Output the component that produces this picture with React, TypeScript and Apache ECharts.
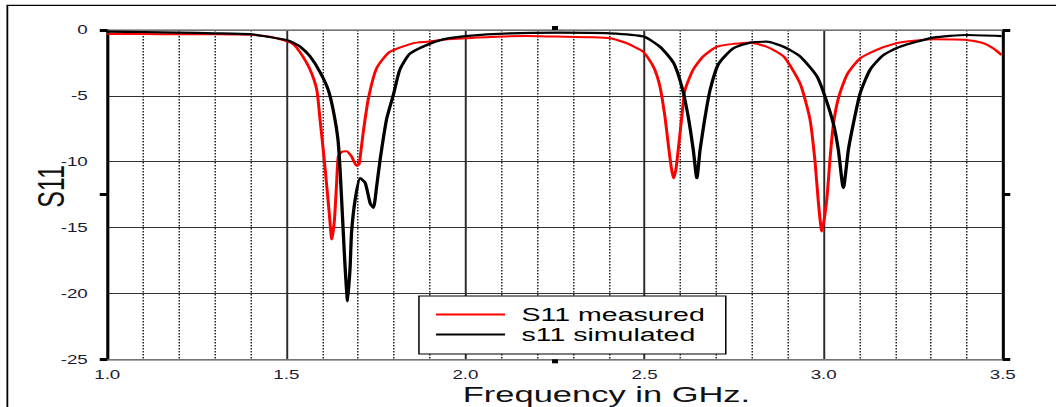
import React, { useEffect, useRef } from "react";
import * as echarts from "echarts";

// ---- data ----
const measuredFreq = [
  1.0, 1.1, 1.2, 1.3, 1.4, 1.45, 1.5, 1.52, 1.54, 1.566, 1.585, 1.594, 1.603, 1.613, 1.62, 1.627,
  1.634, 1.64, 1.645, 1.655, 1.668, 1.682, 1.696, 1.703, 1.709, 1.715, 1.729, 1.752, 1.789, 1.855,
  1.892, 1.95, 2.0, 2.1, 2.171, 2.25, 2.357, 2.404, 2.45, 2.496, 2.525, 2.543, 2.557, 2.567, 2.575,
  2.581, 2.588, 2.595, 2.604, 2.613, 2.636, 2.664, 2.702, 2.75, 2.795, 2.841, 2.888, 2.934, 2.962,
  2.976, 2.985, 2.995, 3.009, 3.018, 3.027, 3.041, 3.065, 3.102, 3.158, 3.213, 3.306, 3.4, 3.445,
  3.473, 3.497,
];
const measuredS11 = [
  -0.3, -0.3, -0.33, -0.32, -0.37, -0.5, -0.85, -1.1, -1.76, -3.0, -4.55, -6.8, -9.1, -11.9, -14.0, -15.9,
  -14.5, -11.8, -9.6, -9.25, -9.2, -9.6, -10.3, -10.2, -9.0, -7.7, -5.2, -2.9, -1.65, -1.0,
  -0.89, -0.7, -0.63, -0.5, -0.46, -0.5, -0.55, -0.63, -1.0, -1.65, -2.8, -4.3, -6.6, -8.85, -10.5,
  -11.25, -10.5, -8.85, -6.6, -4.55, -3.0, -2.0, -1.27, -1.05, -0.96, -1.27, -2.0, -4.05, -6.8,
  -10.0, -13.0, -15.3, -12.8, -9.7, -7.2, -5.2, -3.4, -2.15, -1.39, -0.95, -0.71, -0.76, -1.0,
  -1.39, -1.9,
];
const simulatedFreq = [
  1.0, 1.1, 1.2, 1.3, 1.4, 1.445, 1.5, 1.52, 1.539, 1.566, 1.594, 1.617, 1.631, 1.644, 1.65, 1.659,
  1.664, 1.671, 1.678, 1.682, 1.692, 1.706, 1.72, 1.734, 1.743, 1.752, 1.762, 1.78, 1.799, 1.817,
  1.845, 1.892, 1.938, 2.0, 2.125, 2.264, 2.404, 2.497, 2.543, 2.581, 2.604, 2.622, 2.636, 2.646,
  2.655, 2.669, 2.683, 2.706, 2.748, 2.795, 2.841, 2.888, 2.934, 2.981, 3.004, 3.027, 3.041, 3.055,
  3.069, 3.083, 3.102, 3.13, 3.167, 3.213, 3.306, 3.4, 3.497,
];
const simulatedS11 = [
  -0.12, -0.15, -0.2, -0.25, -0.32, -0.5, -0.76, -0.97, -1.27, -2.0, -3.2, -4.55, -6.1, -8.3, -10.6, -15.4,
  -18.0, -20.6, -18.0, -15.4, -12.9, -11.25, -11.6, -13.15, -13.5, -11.9, -9.8, -6.75, -4.9, -3.0,
  -1.8, -1.14, -0.71, -0.46, -0.25, -0.2, -0.25, -0.5, -1.27, -2.5, -4.3, -6.6, -9.1, -11.25,
  -9.1, -6.6, -4.55, -2.6, -1.39, -0.96, -0.89, -1.27, -2.0, -3.5, -5.06, -7.1, -9.1, -12.0,
  -9.1, -7.1, -4.8, -3.0, -1.9, -1.27, -0.58, -0.38, -0.46,
];
const seriesNames = ["S11 measured", "s11 simulated"];
const xTitle = "Frequency in GHz.";
const yTitle = "S11";
const xRange = [1.0, 3.5];
const yRange = [-25, 0];
const xTickStep = 0.5;
const yTickStep = 5;
const xMarkTicks = [2.25];
const yMarkTicks = [0, -12.5, -25];

// ---- layout ----
const SCALE_X = 1.5;
const PAGE_W = 1056;
const PAGE_H = 407;
const CHART_W = PAGE_W / SCALE_X;
const FONT = '"Liberation Sans", Arial, sans-serif';

export default function App() {
  const ref = useRef<HTMLDivElement>(null);

  useEffect(() => {
    const el = ref.current;
    if (!el) return;
    const chart = echarts.init(el, null, { renderer: "svg", width: CHART_W, height: PAGE_H });
    const toPairs = (xs: number[], ys: number[]) => xs.map((x, i) => [x, ys[i]]);
    const labelStyle = { color: "#1a1a33", fontSize: 12.5, fontFamily: FONT };

    // an axis that only draws the few black tick marks
    const markX = (position: string) => ({
      type: "value",
      min: xRange[0],
      max: xRange[1],
      interval: xTickStep,
      position,
      offset: 0,
      axisLine: { show: false, onZero: false },
      axisTick: { show: true, customValues: xMarkTicks, length: 4, lineStyle: { color: "#000", width: 4 } },
      axisLabel: { show: false },
      splitLine: { show: false },
    });
    const markY = (position: string) => ({
      type: "value",
      min: yRange[0],
      max: yRange[1],
      interval: yTickStep,
      position,
      offset: 0,
      axisLine: { show: false, onZero: false },
      axisTick: { show: true, customValues: yMarkTicks, length: 5, lineStyle: { color: "#000", width: 3 } },
      axisLabel: { show: false },
      splitLine: { show: false },
    });

    chart.setOption({
      animation: false,
      backgroundColor: "#fff",
      grid: { left: 71.5, right: 35.5, top: 30, bottom: 47.7, containLabel: false },
      legend: {
        data: seriesNames,
        orient: "vertical",
        left: 279.3,
        top: 296,
        icon: "rect",
        itemWidth: 46,
        itemHeight: 2,
        itemGap: 1,
        padding: [9, 14, 10, 11.4],
        backgroundColor: "#fff",
        borderColor: "#000",
        borderWidth: 1,
        borderRadius: 0,
        textStyle: { fontSize: 19, fontFamily: FONT, color: "#000", padding: [0, 0, 0, 6] },
      },
      xAxis: [
        {
          type: "value",
          min: xRange[0],
          max: xRange[1],
          interval: xTickStep,
          position: "bottom",
          axisLine: { show: true, onZero: false, lineStyle: { color: "#8a8a8a", width: 1.6 } },
          axisTick: { show: false },
          axisLabel: { ...labelStyle, margin: 9, formatter: (v: number) => v.toFixed(1) },
          splitLine: { show: true, lineStyle: { color: "#2a2a2a", width: 1.3 } },
          minorTick: { show: false, splitNumber: 5 },
          minorSplitLine: { show: true, lineStyle: { color: "#222", width: 1, type: [1.5, 1.5] } },
        },
        {
          type: "value",
          min: xRange[0],
          max: xRange[1],
          interval: xTickStep,
          position: "top",
          axisLine: { show: true, onZero: false, lineStyle: { color: "#8a8a8a", width: 1.6 } },
          axisTick: { show: true, customValues: xMarkTicks, length: 4, lineStyle: { color: "#000", width: 4 } },
          axisLabel: { show: false },
          splitLine: { show: false },
        },
        markX("bottom"),
      ],
      yAxis: [
        {
          type: "value",
          min: yRange[0],
          max: yRange[1],
          interval: yTickStep,
          position: "left",
          axisLine: { show: true, onZero: false, lineStyle: { color: "#000", width: 1.8 } },
          axisTick: { show: false },
          axisLabel: { ...labelStyle, margin: 13, formatter: (v: number) => String(v) },
          splitLine: { show: true, lineStyle: { color: "#333", width: 1.2 } },
        },
        {
          type: "value",
          min: yRange[0],
          max: yRange[1],
          interval: yTickStep,
          position: "right",
          axisLine: { show: true, onZero: false, lineStyle: { color: "#000", width: 1.8 } },
          axisTick: { show: true, customValues: yMarkTicks, length: 5, lineStyle: { color: "#000", width: 3 } },
          axisLabel: { show: false },
          splitLine: { show: false },
        },
        markY("left"),
      ],
      series: [
        {
          name: seriesNames[0],
          type: "line",
          xAxisIndex: 0,
          yAxisIndex: 0,
          data: toPairs(measuredFreq, measuredS11),
          showSymbol: false,
          smooth: 0.2,
          lineStyle: { color: "#ff0000", width: 2 },
          itemStyle: { color: "#ff0000" },
          z: 3,
        },
        {
          name: seriesNames[1],
          type: "line",
          xAxisIndex: 0,
          yAxisIndex: 0,
          data: toPairs(simulatedFreq, simulatedS11),
          showSymbol: false,
          smooth: 0.2,
          lineStyle: { color: "#000", width: 2.2 },
          itemStyle: { color: "#000" },
          z: 4,
        },
      ],
      graphic: [
        {
          type: "rect",
          silent: true,
          shape: { x: 4.9, y: 5.3, width: 1000, height: 1000 },
          style: { fill: "none", stroke: "#000", lineWidth: 1.2 },
          z: 0,
        },
        {
          type: "text",
          silent: true,
          x: 404.3,
          y: 394,
          style: { text: xTitle, fontSize: 23, fontFamily: FONT, fill: "#111", align: "center", verticalAlign: "middle" },
        },
        {
          type: "text",
          silent: true,
          x: 34.3,
          y: 186.5,
          rotation: Math.PI / 2,
          style: { text: yTitle, fontSize: 25, fontFamily: FONT, fill: "#111", align: "center", verticalAlign: "middle" },
        },
      ],
    });
    return () => chart.dispose();
  }, []);

  return (
    <div
      style={{
        position: "fixed",
        left: 0,
        top: 0,
        width: PAGE_W,
        height: PAGE_H,
        overflow: "hidden",
        background: "#fff",
      }}
    >
      <div
        ref={ref}
        style={{ width: CHART_W, height: PAGE_H, transform: `scaleX(${SCALE_X})`, transformOrigin: "0 0" }}
      />
    </div>
  );
}
